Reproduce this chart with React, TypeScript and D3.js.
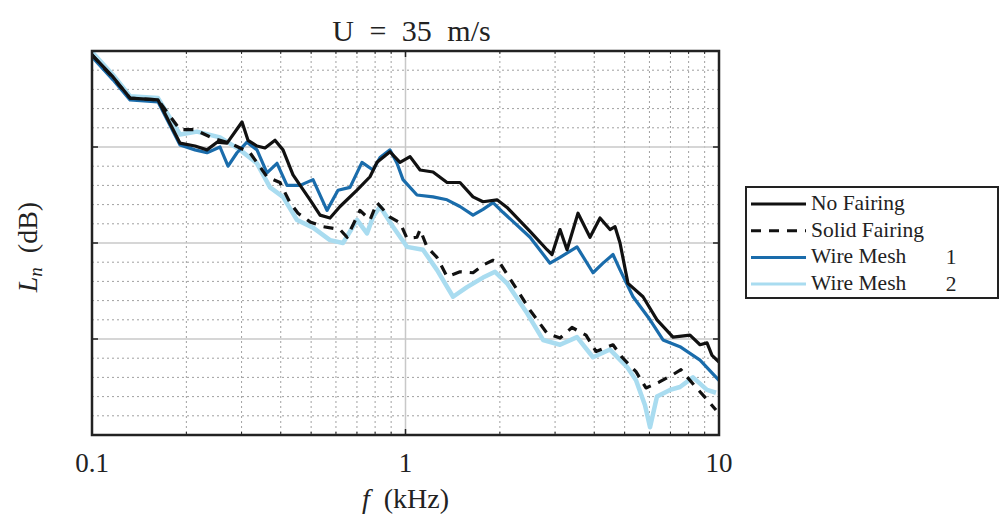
import React from "react";
import * as d3 from "d3";

// ---- Data (f in kHz, L_n in relative dB) ----
const noFairingF = [0.1, 0.1167, 0.1322, 0.1624, 0.1909, 0.2131, 0.2327, 0.2505, 0.2696, 0.301, 0.3145, 0.3359, 0.3563, 0.3835, 0.4067, 0.4377, 0.4961, 0.5339, 0.5744, 0.6183, 0.7004, 0.7705, 0.8111, 0.8925, 0.9605, 1.034, 1.113, 1.224, 1.357, 1.492, 1.642, 1.767, 1.959, 2.108, 2.496, 2.828, 2.933, 3.111, 3.275, 3.55, 3.877, 4.173, 4.491, 4.66, 4.834, 5.125, 5.723, 6.342, 7.134, 8.08, 8.7, 9.157, 9.5, 10.0];
const noFairingL = [39.6, 37.3, 35.1, 34.9, 30.4, 30.1, 29.7, 30.5, 30.4, 32.6, 30.7, 30.1, 29.9, 30.7, 29.7, 27.1, 24.5, 22.9, 22.6, 23.8, 25.5, 26.9, 28.4, 29.5, 28.4, 29.0, 27.6, 27.4, 26.3, 26.3, 24.8, 24.3, 24.5, 23.7, 21.2, 19.3, 18.8, 21.4, 19.3, 23.1, 20.6, 22.6, 21.4, 21.7, 20.0, 15.8, 14.4, 12.0, 10.2, 10.4, 9.4, 9.6, 8.3, 7.6];

const solidF = [0.1, 0.1167, 0.1322, 0.1624, 0.1909, 0.2131, 0.2432, 0.2756, 0.3191, 0.3615, 0.3977, 0.4281, 0.4541, 0.4961, 0.5457, 0.6183, 0.6509, 0.7159, 0.7705, 0.8111, 0.8925, 0.9605, 1.011, 1.088, 1.113, 1.171, 1.26, 1.357, 1.492, 1.642, 1.767, 1.902, 2.002, 2.202, 2.496, 2.828, 3.111, 3.397, 3.765, 4.052, 4.591, 4.905, 5.436, 5.85, 6.437, 7.134, 7.563, 8.322, 9.157, 9.78];
const solidL = [39.6, 37.2, 35.1, 34.9, 31.8, 31.8, 30.9, 30.4, 29.4, 26.9, 26.3, 24.2, 23.1, 22.2, 21.7, 21.4, 20.6, 23.4, 22.4, 24.2, 22.7, 22.1, 20.5, 20.6, 21.4, 19.6, 18.5, 16.5, 17.0, 16.9, 17.7, 18.2, 17.9, 15.8, 13.0, 10.6, 10.1, 11.2, 10.4, 8.7, 9.4, 8.1, 6.6, 4.9, 5.5, 6.3, 6.8, 5.2, 3.7, 2.6];

const mesh1F = [0.1, 0.1167, 0.1322, 0.1624, 0.1909, 0.2131, 0.2327, 0.256, 0.2716, 0.2901, 0.3122, 0.3359, 0.3615, 0.3892, 0.4188, 0.4609, 0.507, 0.5618, 0.6091, 0.6653, 0.7264, 0.7876, 0.8295, 0.8925, 0.9396, 0.9817, 1.088, 1.224, 1.357, 1.492, 1.642, 1.767, 1.902, 2.046, 2.496, 2.89, 3.111, 3.524, 3.964, 4.266, 4.591, 4.834, 5.318, 6.026, 6.628, 7.508, 8.7, 10.0];
const mesh1L = [39.4, 37.0, 34.9, 34.7, 30.2, 29.7, 29.4, 30.0, 28.0, 29.4, 30.5, 29.7, 27.3, 28.3, 26.0, 26.0, 26.6, 23.4, 25.5, 25.8, 28.4, 27.6, 28.9, 29.7, 28.3, 26.6, 25.0, 24.8, 24.5, 23.8, 22.9, 23.5, 24.2, 23.2, 20.6, 17.9, 18.5, 19.6, 16.9, 17.9, 18.8, 17.2, 14.4, 12.0, 9.9, 9.2, 7.8, 5.7];

const mesh2F = [0.1, 0.1167, 0.1322, 0.1624, 0.1909, 0.2162, 0.256, 0.2966, 0.3359, 0.3697, 0.4067, 0.4507, 0.507, 0.5744, 0.6318, 0.7004, 0.7537, 0.7876, 0.8295, 0.9123, 1.011, 1.137, 1.26, 1.418, 1.571, 1.767, 1.93, 2.108, 2.441, 2.746, 3.111, 3.524, 3.964, 4.491, 5.087, 5.436, 5.807, 6.026, 6.342, 6.978, 7.508, 8.26, 9.157, 9.78];
const mesh2L = [39.9, 37.5, 35.3, 35.1, 31.3, 31.6, 31.0, 29.7, 28.3, 25.8, 24.8, 22.4, 21.6, 20.3, 20.0, 22.4, 21.0, 22.7, 23.8, 21.7, 19.6, 19.3, 17.2, 14.4, 15.4, 16.4, 17.0, 15.8, 12.7, 9.9, 9.4, 10.2, 8.1, 8.9, 7.1, 5.7, 3.1, 0.8, 4.0, 4.7, 5.0, 6.0, 4.7, 4.4];

const seriesNames = ["No Fairing", "Solid Fairing", "Wire Mesh", "Wire Mesh"];
const seriesSuffix = ["", "", "1", "2"];
const xTickLabels = ["0.1", "1", "10"];
const xTickValues = [0.1, 1, 10];
const yMajorValues = [10, 20, 30];

const W = 1001;
const H = 525;
const M = { left: 92, right: 719, top: 51, bottom: 435 };

export default function App() {
  const x = d3.scaleLog().domain([0.1, 10]).range([M.left, M.right]);
  const y = d3.scaleLinear().domain([0, 40]).range([M.bottom, M.top]);

  const minorX: number[] = [];
  [0.1, 1].forEach((d) => {
    for (let k = 2; k <= 9; k++) minorX.push(d * k);
  });
  const minorY: number[] = d3.range(2, 40, 2).filter((v) => v % 10 !== 0);

  const line = d3
    .line<[number, number]>()
    .x((d) => x(d[0]))
    .y((d) => y(d[1]))
    .curve(d3.curveLinear);

  const mk = (f: number[], l: number[]) => line(f.map((v, i) => [v, l[i]] as [number, number])) || "";

  const series = [
    { f: mesh2F, l: mesh2L, color: "#a9dcf0", w: 4.5, dash: "" },
    { f: mesh1F, l: mesh1L, color: "#1a6cab", w: 3.2, dash: "" },
    { f: solidF, l: solidL, color: "#111111", w: 3.2, dash: "10,8" },
    { f: noFairingF, l: noFairingL, color: "#111111", w: 3.2, dash: "" },
  ];

  const legendItems = [
    { color: "#111111", w: 3, dash: "" },
    { color: "#111111", w: 3, dash: "10,8" },
    { color: "#1a6cab", w: 3, dash: "" },
    { color: "#a9dcf0", w: 3, dash: "" },
  ];

  const font = "'Liberation Serif', 'DejaVu Serif', serif";
  const textColor = "#222";

  return (
    <div style={{ position: "absolute", left: 0, top: 0 }}>
      <svg width={W} height={H} style={{ display: "block", background: "#fff" }}>
        <defs>
          <clipPath id="plotClip">
            <rect x={M.left} y={M.top} width={M.right - M.left} height={M.bottom - M.top} />
          </clipPath>
        </defs>
        {/* minor grid */}
        {minorX.map((v, i) => (
          <line key={"mx" + i} x1={x(v)} x2={x(v)} y1={M.top} y2={M.bottom} stroke="#a0a0a0" strokeWidth={1} strokeDasharray="2,3" />
        ))}
        {minorY.map((v, i) => (
          <line key={"my" + i} x1={M.left} x2={M.right} y1={y(v)} y2={y(v)} stroke="#a0a0a0" strokeWidth={1} strokeDasharray="2,3" />
        ))}
        {/* major grid */}
        <line x1={x(1)} x2={x(1)} y1={M.top} y2={M.bottom} stroke="#c8c8c8" strokeWidth={1.5} />
        {yMajorValues.map((v, i) => (
          <line key={"My" + i} x1={M.left} x2={M.right} y1={y(v)} y2={y(v)} stroke="#c8c8c8" strokeWidth={1.5} />
        ))}
        {/* series */}
        <g clipPath="url(#plotClip)">
          {series.map((s, i) => (
            <path key={i} d={mk(s.f, s.l)} fill="none" stroke={s.color} strokeWidth={s.w} strokeDasharray={s.dash || undefined} strokeLinejoin="round" />
          ))}
        </g>
        {/* ticks */}
        {minorX.map((v, i) => (
          <g key={"tx" + i}>
            <line x1={x(v)} x2={x(v)} y1={M.bottom} y2={M.bottom - 3} stroke="#222" strokeWidth={1} />
            <line x1={x(v)} x2={x(v)} y1={M.top} y2={M.top + 3} stroke="#222" strokeWidth={1} />
          </g>
        ))}
        <line x1={x(1)} x2={x(1)} y1={M.bottom} y2={M.bottom - 6} stroke="#222" strokeWidth={1.5} />
        <line x1={x(1)} x2={x(1)} y1={M.top} y2={M.top + 6} stroke="#222" strokeWidth={1.5} />
        {yMajorValues.map((v, i) => (
          <g key={"ty" + i}>
            <line x1={M.left} x2={M.left + 6} y1={y(v)} y2={y(v)} stroke="#222" strokeWidth={1.5} />
            <line x1={M.right} x2={M.right - 6} y1={y(v)} y2={y(v)} stroke="#222" strokeWidth={1.5} />
          </g>
        ))}
        {/* border */}
        <rect x={M.left} y={M.top} width={M.right - M.left} height={M.bottom - M.top} fill="none" stroke="#222" strokeWidth={2.5} />
        {/* x tick labels */}
        {xTickValues.map((v, i) => (
          <text key={"xl" + i} x={x(v)} y={472} textAnchor="middle" fontFamily={font} fontSize={27} fill={textColor}>
            {xTickLabels[i]}
          </text>
        ))}
        {/* title */}
        <text x={(M.left + M.right) / 2 + 6} y={41} textAnchor="middle" fontFamily={font} fontSize={30} fill={textColor} style={{ wordSpacing: "8px" }}>
          U = 35 m/s
        </text>
        {/* x label */}
        <text x={(M.left + M.right) / 2} y={508} textAnchor="middle" fontFamily={font} fontSize={28} fill={textColor}>
          <tspan fontStyle="italic">f</tspan>
          <tspan>{"\u00a0\u00a0(kHz)"}</tspan>
        </text>
        {/* y label */}
        <text transform={`translate(37, ${(M.top + M.bottom) / 2 + 4}) rotate(-90)`} textAnchor="middle" fontFamily={font} fontSize={28} fill={textColor}>
          <tspan fontStyle="italic">L</tspan>
          <tspan fontStyle="italic" fontSize={19} dy={5}>n</tspan>
          <tspan dy={-5}>{"\u00a0\u00a0(dB)"}</tspan>
        </text>
        {/* legend */}
        <rect x={746} y={187} width={252} height={111} fill="#fff" stroke="#222" strokeWidth={2} />
        {legendItems.map((it, i) => {
          const yy = 204 + i * 26.7;
          return (
            <g key={"lg" + i}>
              <line x1={751} x2={806} y1={yy} y2={yy} stroke={it.color} strokeWidth={it.w} strokeDasharray={it.dash || undefined} />
              <text x={811} y={yy + 6} fontFamily={font} fontSize={21.5} fill={textColor}>
                {seriesNames[i]}
              </text>
              {seriesSuffix[i] && (
                <text x={951} y={yy + 7} textAnchor="middle" fontFamily={font} fontSize={21.5} fill={textColor}>
                  {seriesSuffix[i]}
                </text>
              )}
            </g>
          );
        })}
      </svg>
    </div>
  );
}
